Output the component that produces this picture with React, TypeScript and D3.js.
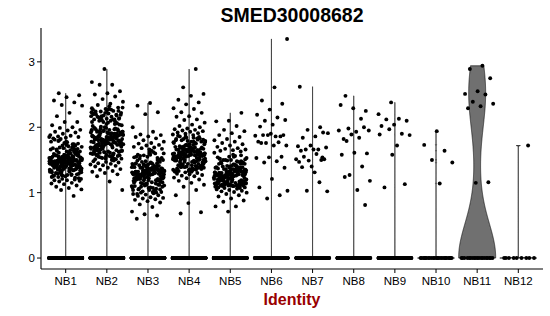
import React from "react";
import * as d3 from "d3";

// ---------- data ----------
const categories = ["NB1", "NB2", "NB3", "NB4", "NB5", "NB6", "NB7", "NB8", "NB9", "NB10", "NB11", "NB12"];
const title = "SMED30008682";
const xLabel = "Identity";
const yTicks = [0, 1, 2, 3];

// number of cells with zero expression per cluster
const zeroCounts = [1000, 1000, 900, 900, 900, 300, 300, 250, 200, 25, 20, 9];

const nb1 = [
  2.52, 2.49, 2.46, 2.41, 2.38, 2.34, 2.33, 2.22, 2.17, 2.08, 2.08, 2.03, 2.0, 1.99, 1.96, 1.95, 1.93, 1.92, 1.9, 1.88, 1.87, 1.86, 1.85, 1.84, 1.83,
  0.95, 1.04, 1.05, 1.07, 1.09, 1.11, 1.13, 1.14, 1.15, 1.17, 1.18, 1.19, 1.19, 1.2, 1.21,
  1.45, 1.52, 1.38, 1.61, 1.47, 1.55, 1.42, 1.33, 1.49, 1.58, 1.44, 1.36, 1.51, 1.66, 1.4, 1.48, 1.29, 1.54, 1.46, 1.62,
  1.43, 1.5, 1.37, 1.57, 1.41, 1.53, 1.31, 1.47, 1.69, 1.39, 1.56, 1.44, 1.49, 1.26, 1.52, 1.6, 1.35, 1.46, 1.54, 1.42,
  1.71, 1.48, 1.34, 1.51, 1.43, 1.59, 1.4, 1.47, 1.28, 1.55, 1.45, 1.63, 1.38, 1.5, 1.44, 1.53, 1.32, 1.49, 1.57, 1.41,
  1.46, 1.74, 1.36, 1.52, 1.48, 1.43, 1.6, 1.39, 1.51, 1.45, 1.24, 1.56, 1.47, 1.42, 1.65, 1.5, 1.37, 1.54, 1.44, 1.49,
  1.58, 1.33, 1.46, 1.52, 1.4, 1.77, 1.48, 1.43, 1.55, 1.35, 1.51, 1.45, 1.61, 1.39, 1.47, 1.53, 1.3, 1.5, 1.44, 1.57,
  1.42, 1.68, 1.48, 1.36, 1.54, 1.46, 1.41, 1.59, 1.49, 1.27, 1.52, 1.45, 1.64, 1.38, 1.5, 1.43, 1.56, 1.47, 1.34, 1.53,
  1.4, 1.72, 1.48, 1.44, 1.51, 1.37, 1.58, 1.46, 1.42, 1.55, 1.49, 1.31, 1.62, 1.45, 1.5, 1.39, 1.53, 1.47, 1.8, 1.41,
  1.56, 1.44, 1.35, 1.52, 1.48, 1.6, 1.43, 1.67, 1.46, 1.25, 1.51, 1.4, 1.54, 1.49, 1.57, 1.36, 1.45, 1.53, 1.42, 1.79,
  1.22, 1.78, 1.26, 1.74, 1.3, 1.7, 1.33, 1.66, 1.28, 1.76, 1.24, 1.69, 1.35, 1.63, 1.27, 1.81, 1.23, 1.72, 1.32, 1.65,
  1.29, 1.75, 1.25, 1.68, 1.34, 1.82, 1.21, 1.71, 1.3, 1.64, 1.36, 1.78, 1.27, 1.61, 1.39, 1.73, 1.26, 1.67, 1.33, 1.85,
];

const nb2 = [
  2.89, 2.69, 2.65, 2.65, 2.55, 2.52, 2.5, 2.47, 2.43, 2.39, 2.36, 2.34, 2.3, 2.28, 2.27, 2.25, 2.24, 2.22, 2.21, 2.2, 2.19, 2.18, 2.17, 2.16, 2.15, 2.14, 2.13, 2.12, 2.12, 2.11,
  1.04, 1.17, 1.25, 1.28, 1.3, 1.32, 1.33, 1.35, 1.36, 1.38, 1.4, 1.41, 1.42, 1.43, 1.44, 1.45, 1.46, 1.47, 1.48, 1.49,
  1.82, 1.75, 1.91, 1.68, 1.86, 1.79, 1.95, 1.72, 1.88, 1.63, 1.84, 1.99, 1.77, 1.7, 1.93, 1.81, 1.58, 1.87, 1.74, 2.02,
  1.8, 1.66, 1.89, 1.76, 1.97, 1.83, 1.71, 1.92, 1.55, 1.85, 1.78, 2.05, 1.69, 1.9, 1.81, 1.64, 1.96, 1.73, 1.87, 1.79,
  2.08, 1.84, 1.61, 1.92, 1.76, 1.83, 1.98, 1.67, 1.88, 1.74, 1.94, 1.8, 1.52, 1.86, 1.77, 2.01, 1.7, 1.9, 1.82, 1.65,
  1.95, 1.78, 1.85, 1.72, 2.04, 1.81, 1.6, 1.89, 1.75, 1.93, 1.83, 1.68, 1.97, 1.79, 1.86, 1.57, 1.91, 1.73, 2.07, 1.84,
  1.76, 1.94, 1.69, 1.88, 1.8, 1.62, 1.99, 1.77, 1.85, 1.71, 2.03, 1.82, 1.66, 1.9, 1.78, 1.96, 1.54, 1.87, 1.74, 1.92,
  1.81, 2.09, 1.7, 1.89, 1.83, 1.64, 1.95, 1.76, 1.86, 1.59, 1.98, 1.79, 1.84, 1.72, 2.06, 1.8, 1.67, 1.91, 1.75, 1.88,
  1.85, 1.63, 1.97, 1.78, 1.82, 1.56, 1.93, 1.73, 2.0, 1.87, 1.69, 1.94, 1.77, 1.83, 1.51, 1.9, 1.81, 1.74, 2.1, 1.86,
  2.25, 1.55, 2.2, 1.6, 2.15, 1.52, 2.28, 1.58, 2.18, 1.62, 2.23, 1.5, 2.1, 1.57, 2.26, 1.65, 2.05, 1.53, 2.3, 1.61,
  2.16, 1.56, 2.22, 1.59, 2.12, 1.54, 2.19, 1.63, 2.24, 1.51, 2.08, 1.6, 2.27, 1.55, 2.13, 1.58, 2.21, 1.52, 2.17, 1.64,
  2.32, 1.57, 2.06, 1.62, 2.29,
];

const nb3 = [
  2.37, 2.33, 2.23, 2.2, 2.0, 1.93, 1.89, 1.88, 1.86, 1.85, 1.83, 1.8, 1.78, 1.76, 1.75, 1.73, 1.72, 1.7, 1.69, 1.68, 1.67, 1.66,
  0.6, 0.65, 0.67, 0.71, 0.78, 0.82, 0.85, 0.87, 0.89, 0.9, 0.91, 0.92, 0.93, 0.95, 0.96, 0.97, 0.98, 0.99, 1.0, 1.01,
  1.3, 1.24, 1.38, 1.19, 1.33, 1.45, 1.27, 1.12, 1.35, 1.22, 1.41, 1.29, 1.16, 1.36, 1.25, 1.5, 1.31, 1.08, 1.39, 1.21,
  1.34, 1.27, 1.44, 1.14, 1.32, 1.23, 1.37, 1.05, 1.29, 1.42, 1.18, 1.35, 1.26, 1.53, 1.31, 1.2, 1.4, 1.28, 1.1, 1.36,
  1.24, 1.47, 1.33, 1.17, 1.3, 1.38, 1.22, 1.58, 1.27, 1.34, 1.13, 1.41, 1.29, 1.25, 1.37, 1.19, 1.32, 1.06, 1.43, 1.28,
  1.35, 1.21, 1.48, 1.3, 1.15, 1.39, 1.26, 1.33, 1.62, 1.23, 1.36, 1.11, 1.31, 1.44, 1.27, 1.2, 1.38, 1.29, 1.03, 1.34,
  1.25, 1.46, 1.32, 1.18, 1.4, 1.28, 1.35, 1.09, 1.3, 1.22, 1.55, 1.37, 1.26, 1.33, 1.16, 1.42, 1.29, 1.24, 1.39, 1.31,
  1.14, 1.36, 1.27, 1.49, 1.21, 1.34, 1.3, 1.07, 1.38, 1.25, 1.43, 1.32, 1.19, 1.28, 1.6, 1.35, 1.23, 1.41, 1.12, 1.29,
  1.33, 1.26, 1.37, 1.04, 1.31, 1.45, 1.22, 1.39, 1.28, 1.52,
  1.05, 1.55, 1.1, 1.6, 1.02, 1.5, 1.08, 1.58, 1.12, 1.48, 1.04, 1.62, 1.15, 1.52, 1.07, 1.45, 1.0, 1.57, 1.11, 1.64,
  1.06, 1.5, 1.14, 1.54, 1.03, 1.47, 1.09, 1.6, 0.98, 1.53, 1.13, 1.44, 1.01, 1.56, 1.17,
];

const nb4 = [
  2.89, 2.61, 2.51, 2.48, 2.42, 2.38, 2.35, 2.29, 2.28, 2.23, 2.22, 2.17, 2.16, 2.12, 2.11, 2.07, 2.04, 2.02, 2.0, 1.98, 1.97, 1.96, 1.95, 1.94, 1.93, 1.92, 1.91, 1.9, 1.89, 1.88,
  0.68, 0.7, 0.84, 0.96, 1.04, 1.09, 1.12, 1.15, 1.18, 1.2, 1.22, 1.23, 1.25, 1.26, 1.27, 1.28, 1.29, 1.3,
  1.58, 1.52, 1.65, 1.47, 1.61, 1.72, 1.55, 1.41, 1.63, 1.5, 1.69, 1.57, 1.44, 1.66, 1.53, 1.78, 1.59, 1.36, 1.67, 1.49,
  1.62, 1.55, 1.74, 1.42, 1.6, 1.51, 1.64, 1.33, 1.57, 1.7, 1.46, 1.63, 1.54, 1.81, 1.59, 1.48, 1.68, 1.56, 1.38, 1.64,
  1.52, 1.75, 1.61, 1.45, 1.58, 1.66, 1.5, 1.84, 1.55, 1.62, 1.4, 1.69, 1.57, 1.53, 1.65, 1.47, 1.6, 1.34, 1.71, 1.56,
  1.63, 1.49, 1.76, 1.58, 1.43, 1.67, 1.54, 1.61, 1.86, 1.51, 1.64, 1.39, 1.59, 1.72, 1.55, 1.48, 1.66, 1.57, 1.32, 1.62,
  1.53, 1.73, 1.6, 1.46, 1.68, 1.56, 1.63, 1.37, 1.58, 1.5, 1.79, 1.65, 1.54, 1.61, 1.44, 1.7, 1.57, 1.52, 1.67, 1.59,
  1.42, 1.64, 1.55, 1.77, 1.49, 1.62, 1.58, 1.35, 1.66, 1.53, 1.71, 1.6, 1.47, 1.56, 1.83, 1.63, 1.51, 1.69, 1.4, 1.57,
  1.61, 1.54, 1.65, 1.31, 1.59, 1.73, 1.5, 1.67, 1.56, 1.8,
  1.35, 1.82, 1.38, 1.78, 1.33, 1.85, 1.4, 1.76, 1.36, 1.8, 1.42, 1.74, 1.34, 1.83, 1.39, 1.77, 1.37, 1.86, 1.41, 1.79,
  1.32, 1.75, 1.43, 1.81, 1.36, 1.87, 1.38, 1.73, 1.35, 1.84, 1.44, 1.78, 1.33, 1.82, 1.4,
];

const nb5 = [
  2.22, 2.1, 2.09, 2.02, 1.96, 1.94, 1.91, 1.88, 1.85, 1.82, 1.8, 1.78, 1.76, 1.74, 1.72, 1.7, 1.68, 1.67, 1.66, 1.65, 1.64, 1.63,
  0.71, 0.79, 0.79, 0.86, 0.88, 0.91, 0.94, 0.96, 0.98, 1.0, 1.01, 1.02, 1.03, 1.04, 1.05, 1.06, 1.07, 1.08,
  1.28, 1.22, 1.35, 1.17, 1.31, 1.42, 1.25, 1.11, 1.33, 1.2, 1.39, 1.27, 1.14, 1.36, 1.23, 1.48, 1.29, 1.1, 1.37, 1.19,
  1.32, 1.25, 1.44, 1.13, 1.3, 1.21, 1.34, 1.12, 1.27, 1.4, 1.16, 1.33, 1.24, 1.51, 1.29, 1.18, 1.38, 1.26, 1.09, 1.34,
  1.22, 1.45, 1.31, 1.15, 1.28, 1.36, 1.2, 1.55, 1.25, 1.32, 1.12, 1.39, 1.27, 1.23, 1.35, 1.17, 1.3, 1.1, 1.41, 1.26,
  1.33, 1.19, 1.46, 1.28, 1.14, 1.37, 1.24, 1.31, 1.58, 1.21, 1.34, 1.11, 1.29, 1.42, 1.25, 1.18, 1.36, 1.27, 1.13, 1.32,
  1.23, 1.43, 1.3, 1.16, 1.38, 1.26, 1.33, 1.12, 1.28, 1.2, 1.52, 1.35, 1.24, 1.31, 1.15, 1.4, 1.27, 1.22, 1.37, 1.29,
  1.14, 1.34, 1.25, 1.47, 1.19, 1.32, 1.28, 1.11, 1.36, 1.23, 1.41, 1.3, 1.17, 1.26, 1.61, 1.33, 1.21, 1.39, 1.13, 1.27,
  1.31, 1.24, 1.35, 1.1, 1.29, 1.44, 1.2, 1.38, 1.26, 1.5,
  1.12, 1.5, 1.08, 1.47, 1.15, 1.53, 1.1, 1.45, 1.13, 1.55, 1.09, 1.48, 1.16, 1.44, 1.11, 1.52, 1.07, 1.49, 1.14, 1.56,
  1.1, 1.46, 1.12, 1.54, 1.08, 1.5, 1.15, 1.43, 1.11, 1.57,
];

const nb6 = [
  3.35, 2.61, 2.41, 2.36, 2.27, 2.19, 2.15, 2.1, 2.11, 2.04, 2.01, 1.86, 1.88, 1.87, 1.86, 1.88, 1.88, 1.9,
  1.78, 1.77, 1.76, 1.72, 1.72, 1.76, 1.55, 1.54, 1.53, 1.48, 1.46, 1.38, 1.21, 1.08, 0.96, 0.91, 1.03,
];
const nb7 = [
  2.62, 2.0, 1.96, 1.91, 1.86, 1.84, 1.92, 1.72, 1.71, 1.66, 1.66, 1.69, 1.66, 1.64, 1.5, 1.49, 1.51, 1.59,
  1.55, 1.51, 1.4, 1.47, 1.16, 1.03, 1.02, 1.31, 1.39, 1.54,
];
const nb8 = [
  2.48, 2.25, 2.29, 2.34, 2.13, 1.98, 1.95, 1.93, 1.82, 2.0, 1.89, 1.95, 1.84, 1.79, 1.6, 1.61, 1.58, 1.4,
  1.27, 1.18, 1.04, 1.24, 0.81,
];
const nb9 = [2.38, 2.2, 2.13, 2.12, 2.1, 2.04, 2.02, 1.9, 1.97, 1.88, 1.72, 1.08, 1.13, 1.58, 1.89];
const nb10 = [1.94, 1.73, 1.64, 1.5, 1.46, 1.14];
const nb11 = [2.94, 2.89, 2.75, 2.55, 2.51, 2.5, 2.39, 2.36, 2.32, 2.29, 1.16, 1.15];
const nb12 = [1.72];

const nonZeroValues = [nb1, nb2, nb3, nb4, nb5, nb6, nb7, nb8, nb9, nb10, nb11, nb12];

// ---------- layout ----------
const W = 550;
const H = 316;
const plotLeft = 41;
const plotRight = 543;
const plotTop = 28;
const plotBottom = 269;
const FONT = "'Liberation Sans', Arial, Helvetica, sans-serif";

function nrd0(values: number[]): number {
  const s = values.slice().sort(d3.ascending);
  const hi = d3.deviation(s) || 0;
  const iqr = (d3.quantileSorted(s, 0.75) as number) - (d3.quantileSorted(s, 0.25) as number);
  const lo = Math.min(hi, iqr / 1.34);
  // Seurat adds tiny noise to the data; with >75% zeros the IQR collapses to noise level
  if (!(lo > 1e-9)) return 0.004;
  return 0.9 * lo * Math.pow(s.length, -0.2);
}

function density(values: number[], bw: number, lo: number, hi: number, n = 512) {
  const out: { v: number; d: number }[] = [];
  const k = 1 / (Math.sqrt(2 * Math.PI) * bw * values.length);
  for (let i = 0; i < n; i++) {
    const v = lo + ((hi - lo) * i) / (n - 1);
    let s = 0;
    for (const x of values) {
      const z = (v - x) / bw;
      if (z > -8 && z < 8) s += Math.exp(-0.5 * z * z);
    }
    out.push({ v, d: s * k });
  }
  return out;
}

export default function App() {
  const yMax = d3.max(nonZeroValues.flat()) as number;
  const pad = (yMax - 0) * 0.05;
  const y = d3.scaleLinear().domain([0 - pad, yMax + pad]).range([plotBottom, plotTop]);

  const x = d3
    .scalePoint<string>()
    .domain(categories)
    .range([plotLeft, plotRight])
    .padding(0.6);
  const step = x.step();
  const halfWidth = 0.45 * step;
  const jitter = 0.4 * step;

  const groups = categories.map((cat, g) => {
    const values = [...nonZeroValues[g], ...new Array(zeroCounts[g]).fill(0)];
    const lo = d3.min(values) as number;
    const hi = d3.max(values) as number;
    const bw = nrd0(values);
    const dens = density(values, bw, lo, hi);
    const maxD = d3.max(dens, (d) => d.d) as number;
    const cx = x(cat) as number;
    const w = d3.scaleLinear().domain([0, maxD]).range([0, halfWidth]);
    const area = d3
      .area<{ v: number; d: number }>()
      .y((d) => y(d.v))
      .x0((d) => cx - w(d.d))
      .x1((d) => cx + w(d.d));
    const pts = values.map((v, i) => {
      const f = (i * 0.6180339887 + g * 0.137 + (v > 0 ? 0.29 : 0)) % 1;
      return { x: cx + (f - 0.5) * 2 * jitter, y: y(v) };
    });
    return { cat, cx, path: area(dens) as string, pts };
  });

  return (
    <svg
      width={W}
      height={H}
      style={{ position: "absolute", left: 0, top: 0, background: "#fff" }}
      fontFamily={FONT}
    >
      <rect x={0} y={0} width={W} height={H} fill="#fff" />
      <text x={(plotLeft + plotRight) / 2} y={22} textAnchor="middle" fontSize={19.5} fontWeight="bold" fill="#000">
        {title}
      </text>

      {groups.map((gr) => (
        <path key={"v" + gr.cat} d={gr.path} fill="#707070" stroke="#000" strokeWidth={0.6} strokeLinejoin="round" />
      ))}
      {groups.map((gr) => (
        <g key={"p" + gr.cat}>
          {gr.pts.map((p, i) => (
            <circle key={i} cx={p.x} cy={p.y} r={1.95} fill="#000" />
          ))}
        </g>
      ))}

      {/* axes */}
      <line x1={plotLeft} x2={plotLeft} y1={plotTop} y2={plotBottom} stroke="#000" strokeWidth={1.1} />
      <line x1={plotLeft} x2={plotRight} y1={plotBottom} y2={plotBottom} stroke="#000" strokeWidth={1.1} />
      {yTicks.map((t) => (
        <g key={"yt" + t}>
          <line x1={plotLeft - 4} x2={plotLeft} y1={y(t)} y2={y(t)} stroke="#000" strokeWidth={1} />
          <text x={plotLeft - 6} y={y(t)} dy="0.36em" textAnchor="end" fontSize={11.5} fill="#000">
            {t}
          </text>
        </g>
      ))}
      {categories.map((c) => (
        <g key={"xt" + c}>
          <line x1={x(c)} x2={x(c)} y1={plotBottom} y2={plotBottom + 4} stroke="#000" strokeWidth={1} />
          <text x={x(c)} y={285} textAnchor="middle" fontSize={11.5} fill="#000">
            {c}
          </text>
        </g>
      ))}
      <text x={(plotLeft + plotRight) / 2} y={305} textAnchor="middle" fontSize={16} fontWeight="bold" fill="#990000">
        {xLabel}
      </text>
    </svg>
  );
}
